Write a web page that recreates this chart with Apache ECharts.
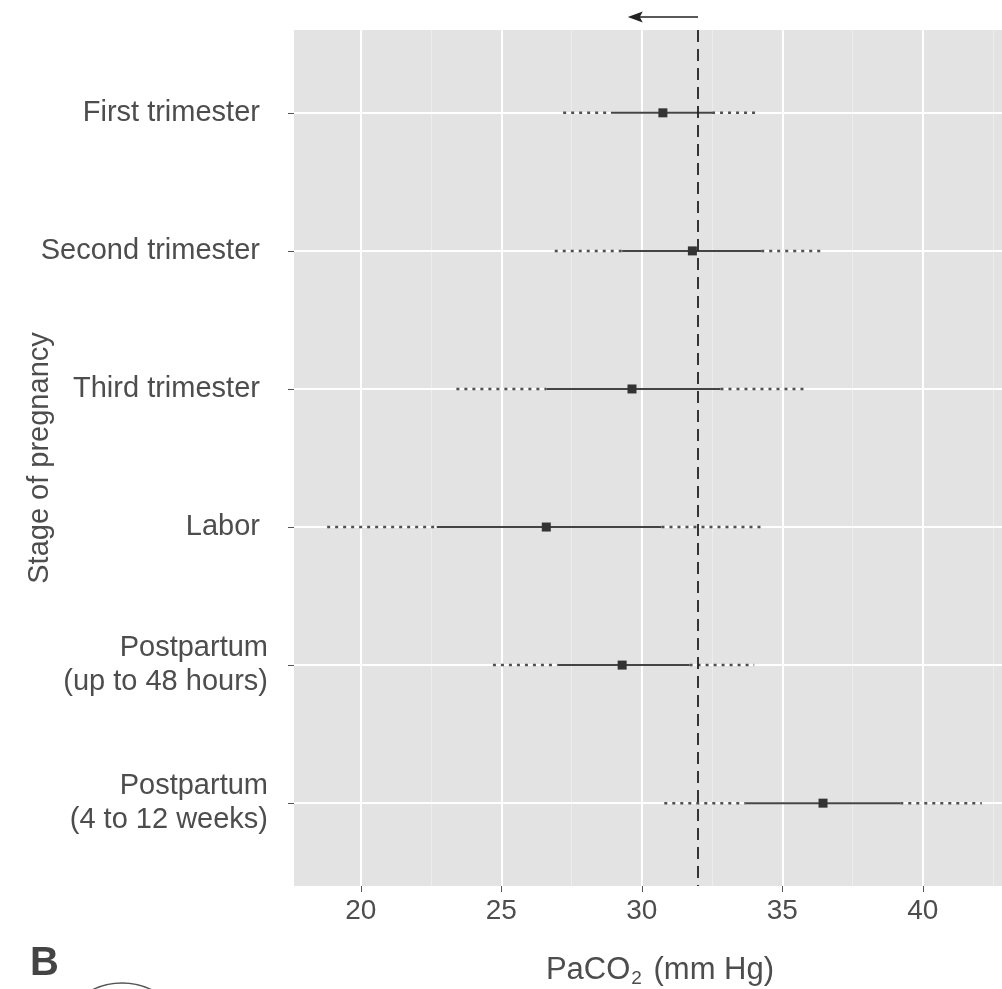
<!DOCTYPE html>
<html>
<head>
<meta charset="utf-8">
<script src="https://cdn.jsdelivr.net/npm/echarts@6/dist/echarts.min.js"></script>
<style>
  html, body { margin: 0; padding: 0; background: #ffffff; }
  #chart { width: 1002px; height: 989px; }
</style>
</head>
<body>
<div id="chart"></div>
<script>
// Stages of pregnancy, top to bottom
const stages = [
  'First trimester ',
  'Second trimester ',
  'Third trimester ',
  'Labor ',
  'Postpartum\n(up to 48 hours)',
  'Postpartum\n(4 to 12 weeks)'
];
// PaCO2 (mm Hg): outer range (dotted), inner interval (solid), mean (square)
const rangeLow  = [27.2, 26.9, 23.4, 18.8, 24.7, 30.8];
const ciLow     = [28.9, 29.3, 26.6, 22.7, 27.0, 33.7];
const means     = [30.75, 31.8, 29.65, 26.6, 29.3, 36.45];
const ciHigh    = [32.5, 34.25, 32.8, 30.7, 31.7, 39.2];
const rangeHigh = [34.2, 36.5, 35.9, 34.4, 34.0, 42.1];

// Non-pregnant reference value and the arrow pointing toward lower values
const refValue = 32;
const arrowEnd = 29.5;

// Axis scale and tick labels
const xMin = 17.62;
const xMax = 42.82;
const xTicks = [20, 25, 30, 35, 40];
const xMinor = [22.5, 27.5, 32.5, 37.5, 42.5];
const rows = stages.map((s, i) => i + 1);

const textColor = '#4d4d4d';
const font = '"Liberation Sans", Arial, Helvetica, sans-serif';

const dottedLeft = stages.map((s, i) => [rangeLow[i], ciLow[i], i + 1]);
const dottedRight = stages.map((s, i) => [ciHigh[i], rangeHigh[i], i + 1]);
const solid = stages.map((s, i) => [ciLow[i], ciHigh[i], i + 1]);
const points = stages.map((s, i) => [means[i], i + 1]);

function segment(style) {
  return function (params, api) {
    const a = api.coord([api.value(0), api.value(2)]);
    const b = api.coord([api.value(1), api.value(2)]);
    return {
      type: 'line',
      shape: { x1: a[0], y1: a[1], x2: b[0], y2: b[1] },
      style: style
    };
  };
}

const dottedStyle = { stroke: '#505050', lineWidth: 2.5, lineDash: [3, 5], fill: null };
const solidStyle = { stroke: '#444444', lineWidth: 2, fill: null };

const chart = echarts.init(document.getElementById('chart'), null, { renderer: 'canvas' });

const option = {
  animation: false,
  backgroundColor: '#ffffff',
  textStyle: { fontFamily: font },
  grid: {
    left: 294, right: 0, top: 30, bottom: 103,
    outerBoundsMode: 'none',
    containLabel: false,
    show: true, backgroundColor: '#e3e3e3', borderWidth: 0
  },
  xAxis: {
    type: 'value',
    min: xMin,
    max: xMax,
    axisLine: { show: false },
    splitLine: { show: false },
    axisTick: { show: true, customValues: xTicks, length: 6, lineStyle: { color: '#555555', width: 1 } },
    axisLabel: { customValues: xTicks, margin: 11, fontSize: 28, color: textColor, fontFamily: font },
    name: '{a|PaCO}{s|2}{a| (mm Hg)}',
    nameLocation: 'middle',
    nameMoveOverlap: false,
    nameGap: 66,
    nameTextStyle: {
      padding: [0, 0, 0, 24],
      rich: {
        a: { fontSize: 31, lineHeight: 36, color: textColor, fontFamily: font },
        s: { fontSize: 19, lineHeight: 10, verticalAlign: 'bottom', color: textColor, fontFamily: font, padding: [0, 3, 0, 1] }
      }
    }
  },
  yAxis: {
    type: 'value',
    inverse: true,
    min: 0.4,
    max: 6.6,
    axisLine: { show: false },
    splitLine: { show: false },
    axisTick: { show: true, customValues: rows, length: 6, lineStyle: { color: '#555555', width: 1 } },
    axisLabel: {
      customValues: rows,
      margin: 26,
      fontSize: 29,
      lineHeight: 34,
      color: textColor,
      fontFamily: font,
      align: 'right',
      formatter: v => stages[Math.round(v) - 1] || ''
    },
    name: 'Stage of pregnancy',
    nameLocation: 'middle',
    nameRotate: 90,
    nameMoveOverlap: false,
    nameGap: 240,
    nameTextStyle: { fontSize: 29, color: textColor, fontFamily: font }
  },
  series: [
    {
      // panel grid lines
      type: 'scatter',
      data: [],
      z: 1,
      silent: true,
      markLine: {
        z: 1,
        silent: true,
        symbol: 'none',
        label: { show: false },
        animation: false,
        data: [
          ...xMinor.map(v => ({ xAxis: v, lineStyle: { color: '#ededed', width: 1, type: 'solid' } })),
          ...xTicks.map(v => ({ xAxis: v, lineStyle: { color: '#ffffff', width: 2, type: 'solid' } })),
          ...rows.map(v => ({ yAxis: v, lineStyle: { color: '#ffffff', width: 2, type: 'solid' } }))
        ]
      }
    },
    {
      type: 'custom',
      z: 2,
      renderItem: segment(dottedStyle),
      encode: { x: [0, 1], y: 2 },
      data: dottedLeft
    },
    {
      type: 'custom',
      z: 2,
      renderItem: segment(dottedStyle),
      encode: { x: [0, 1], y: 2 },
      data: dottedRight
    },
    {
      type: 'custom',
      z: 3,
      renderItem: segment(solidStyle),
      encode: { x: [0, 1], y: 2 },
      data: solid
    },
    {
      type: 'scatter',
      z: 4,
      symbol: 'rect',
      symbolSize: 9,
      itemStyle: { color: '#333333', opacity: 1 },
      data: points
    },
    {
      // reference line
      type: 'scatter',
      data: [],
      z: 6,
      silent: true,
      markLine: {
        z: 6,
        silent: true,
        symbol: 'none',
        label: { show: false },
        animation: false,
        lineStyle: { color: '#222222', width: 1.8, type: [12, 7] },
        data: [{ xAxis: refValue }]
      }
    }
  ]
};

chart.setOption(option);

// Arrow above the panel, from the reference value toward lower PaCO2
const pStart = chart.convertToPixel({ gridIndex: 0 }, [refValue, 0.4]);
const pEnd = chart.convertToPixel({ gridIndex: 0 }, [arrowEnd, 0.4]);
const ay = pStart[1] - 13;
chart.setOption({
  graphic: [
    {
      type: 'line',
      shape: { x1: pStart[0], y1: ay, x2: pEnd[0] + 10, y2: ay },
      style: { stroke: '#222222', lineWidth: 1.6 }
    },
    {
      type: 'polygon',
      shape: { points: [[pEnd[0], ay], [pEnd[0] + 15, ay - 5.5], [pEnd[0] + 12, ay], [pEnd[0] + 15, ay + 5.5]] },
      style: { fill: '#222222' }
    },
    {
      type: 'text',
      left: 30,
      top: 944,
      style: { text: 'B', font: 'bold 40px ' + font, fill: '#444444' }
    },
    {
      type: 'circle',
      shape: { cx: 122, cy: 1049, r: 66 },
      style: { fill: null, stroke: '#555555', lineWidth: 1.5 }
    }
  ]
});
</script>
</body>
</html>
